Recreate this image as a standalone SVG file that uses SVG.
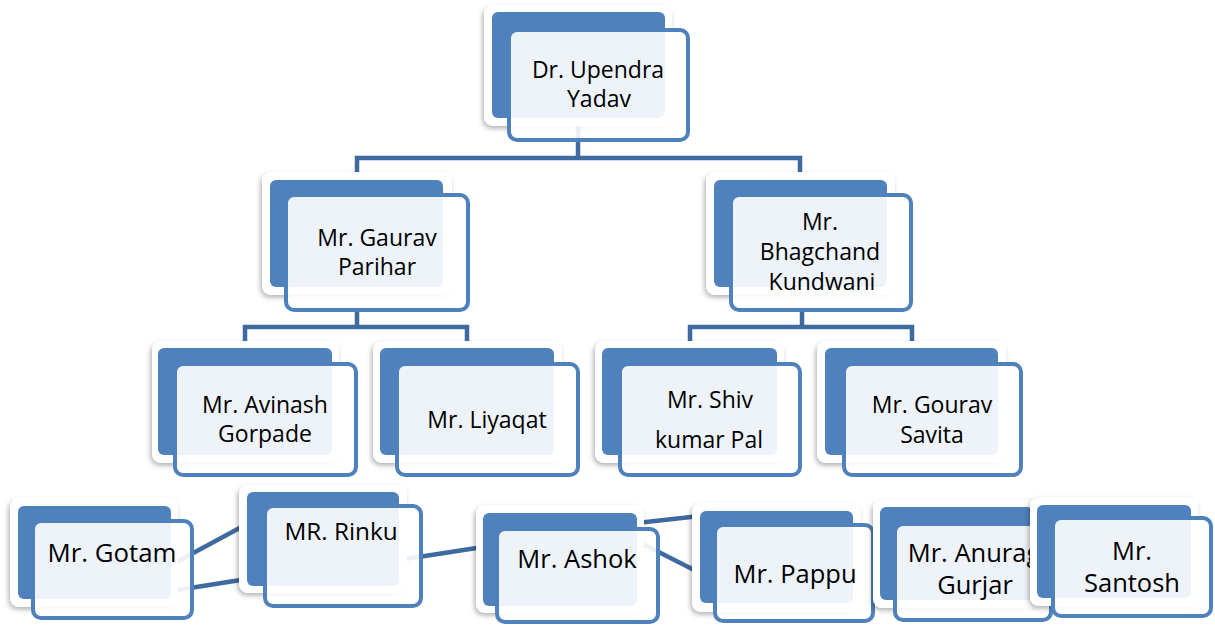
<svg xmlns="http://www.w3.org/2000/svg" width="1215" height="626" viewBox="0 0 1215 626">
<defs>
<filter id="sh" x="-10%" y="-10%" width="120%" height="130%">
<feDropShadow dx="-1.5" dy="2.5" stdDeviation="2.5" flood-color="#000" flood-opacity="0.3"/>
</filter>
</defs>
<style>
.w{fill:#fff;filter:url(#sh)}
.b{fill:#4F81BD}
.s{fill:#fff;fill-opacity:0.9;stroke:#4F81BD;stroke-width:4}
.t{font-family:"Open Sans","Noto Sans",sans-serif;fill:#000;text-anchor:middle}
.c{fill:none;stroke:#3F6A9F;stroke-width:4.5}
</style>
<rect width="1215" height="626" fill="#fff"/>
<g id="connectors">
<path class="c" d="M578,126 V158"/>
<path class="c" d="M357,175 V158 H800 V175"/>
<path class="c" d="M357,312 V327"/>
<path class="c" d="M245,343 V327 H467 V343"/>
<path class="c" d="M802,312 V327"/>
<path class="c" d="M690,343 V327 H912 V343"/>
<path class="c" d="M171,565 L247,524"/>
<path class="c" d="M171,591 L247,579"/>
<path class="c" d="M399,560 L483,547"/>
<path class="c" d="M637,523 L700,516"/>
<path class="c" d="M637,541 L700,573"/>
</g>
<g id="n1">
<rect class="w" x="484" y="5" width="188" height="121" rx="9"/>
<rect class="b" x="492" y="12" width="173" height="106" rx="6"/>
<rect class="s" x="509" y="30" width="179" height="110" rx="8"/>
<text class="t" font-size="23" x="598" y="78">Dr. Upendra</text>
<text class="t" font-size="23" x="599" y="107">Yadav</text>
</g>
<g id="n2">
<rect class="w" x="262" y="172" width="190" height="123" rx="9"/>
<rect class="b" x="270" y="180" width="173" height="107" rx="6"/>
<rect class="s" x="286" y="195" width="182" height="115" rx="8"/>
<text class="t" font-size="23" x="377" y="246">Mr. Gaurav</text>
<text class="t" font-size="23" x="377" y="275">Parihar</text>
</g>
<g id="n3">
<rect class="w" x="706" y="172" width="189" height="123" rx="9"/>
<rect class="b" x="714" y="180" width="173" height="107" rx="6"/>
<rect class="s" x="731" y="195" width="180" height="115" rx="8"/>
<text class="t" font-size="23" x="820" y="230">Mr.</text>
<text class="t" font-size="23" x="820" y="260">Bhagchand</text>
<text class="t" font-size="23" x="822" y="290">Kundwani</text>
</g>
<g id="n4">
<rect class="w" x="152" y="341" width="187" height="122" rx="9"/>
<rect class="b" x="158" y="348" width="174" height="107" rx="6"/>
<rect class="s" x="175" y="364" width="181" height="111" rx="8"/>
<text class="t" font-size="23" x="265" y="413">Mr. Avinash</text>
<text class="t" font-size="23" x="265" y="442">Gorpade</text>
</g>
<g id="n5">
<rect class="w" x="373" y="341" width="189" height="122" rx="9"/>
<rect class="b" x="380" y="348" width="174" height="107" rx="6"/>
<rect class="s" x="397" y="364" width="181" height="111" rx="8"/>
<text class="t" font-size="23" x="487" y="428">Mr. Liyaqat</text>
</g>
<g id="n6">
<rect class="w" x="595" y="341" width="189" height="122" rx="9"/>
<rect class="b" x="602" y="348" width="175" height="107" rx="6"/>
<rect class="s" x="620" y="364" width="180" height="111" rx="8"/>
<text class="t" font-size="23" x="710" y="408">Mr. Shiv</text>
<text class="t" font-size="23" x="709" y="448">kumar Pal</text>
</g>
<g id="n7">
<rect class="w" x="817" y="341" width="189" height="122" rx="9"/>
<rect class="b" x="825" y="348" width="173" height="107" rx="6"/>
<rect class="s" x="844" y="364" width="177" height="111" rx="8"/>
<text class="t" font-size="23" x="932" y="413">Mr. Gourav</text>
<text class="t" font-size="23" x="932" y="443">Savita</text>
</g>
<g id="n8">
<rect class="w" x="10" y="498" width="168" height="109" rx="9"/>
<rect class="b" x="18" y="506" width="153" height="93" rx="6"/>
<rect class="s" x="33" y="521" width="159" height="97" rx="8"/>
<text class="t" font-size="25.8" x="112" y="562">Mr. Gotam</text>
</g>
<g id="n9">
<rect class="w" x="239" y="485" width="168" height="108" rx="9"/>
<rect class="b" x="247" y="492" width="152" height="94" rx="6"/>
<rect class="s" x="265" y="506" width="156" height="100" rx="8"/>
<text class="t" font-size="24.3" x="341" y="540">MR. Rinku</text>
</g>
<g id="n10">
<rect class="w" x="476" y="505" width="168" height="108" rx="9"/>
<rect class="b" x="483" y="513" width="154" height="93" rx="6"/>
<rect class="s" x="497" y="529" width="161" height="93" rx="8"/>
<text class="t" font-size="25.5" x="577" y="568">Mr. Ashok</text>
</g>
<g id="n11">
<rect class="w" x="692" y="503" width="169" height="109" rx="9"/>
<rect class="b" x="700" y="511" width="153" height="92" rx="6"/>
<rect class="s" x="715" y="525" width="158" height="96" rx="8"/>
<text class="t" font-size="25.5" x="795" y="583">Mr. Pappu</text>
</g>
<g id="n12">
<rect class="w" x="873" y="500" width="168" height="108" rx="9"/>
<rect class="b" x="880" y="507" width="153" height="93" rx="6"/>
<rect class="s" x="895" y="524" width="156" height="96" rx="8"/>
<text class="t" font-size="25.5" x="974" y="562">Mr. Anurag</text>
<text class="t" font-size="25.5" x="975" y="594">Gurjar</text>
</g>
<g id="n13">
<rect class="w" x="1030" y="497" width="168" height="109" rx="9"/>
<rect class="b" x="1037" y="505" width="154" height="93" rx="6"/>
<rect class="s" x="1053" y="518" width="158" height="98" rx="8"/>
<text class="t" font-size="25.5" x="1132" y="560">Mr.</text>
<text class="t" font-size="25.5" x="1132" y="592">Santosh</text>
</g>
</svg>
